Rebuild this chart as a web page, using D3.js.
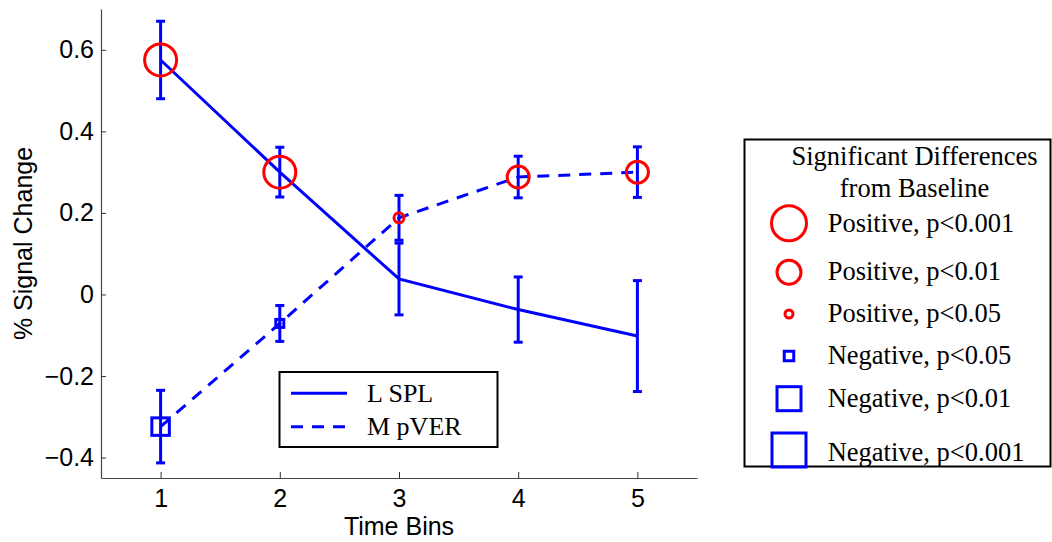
<!DOCTYPE html>
<html>
<head>
<meta charset="utf-8">
<script src="https://cdn.jsdelivr.net/npm/d3@7"></script>
<style>
  html, body { margin: 0; padding: 0; background: #fff; }
  svg { display: block; }
</style>
</head>
<body>
<svg id="chart" width="1052" height="542"></svg>
<script>
// Time bins on the x axis
const bins = [1, 2, 3, 4, 5];

// Mean % signal change and error-bar half-widths per region
const lSpl = [0.575, 0.300, 0.038, -0.037, -0.102];
const lSplErr = [0.095, 0.061, 0.088, 0.080, 0.136];
const mPver = [-0.324, -0.071, 0.188, 0.288, 0.300];
const mPverErr = [0.089, 0.044, 0.055, 0.051, 0.062];

// Significance vs. baseline for each bin (null = not significant)
const lSplSig = ["pos001", "pos001", null, null, null];
const mPverSig = ["neg01", "neg05", "pos05", "pos01", "pos01"];

// Axis ticks
const yTicks = [-0.4, -0.2, 0, 0.2, 0.4, 0.6];
const xTicks = [1, 2, 3, 4, 5];

// Legend text
const seriesNames = ["L SPL", "M pVER"];
const sigCodes = ["pos001", "pos01", "pos05", "neg05", "neg01", "neg001"];
const sigLabels = ["Positive, p<0.001", "Positive, p<0.01", "Positive, p<0.05",
                   "Negative, p<0.05", "Negative, p<0.01", "Negative, p<0.001"];
const sigTitle = ["Significant Differences", "from Baseline"];

// ---- drawing ----
const svg = d3.select("#chart");
const BLUE = "#0000ff", RED = "#ff0000";
const SANS = "'Liberation Sans', Arial, Helvetica, sans-serif";
const SERIF = "'Liberation Serif', 'Times New Roman', serif";

const x = d3.scaleLinear().domain([0.5, 5.5]).range([101, 697]);
const y = d3.scaleLinear().domain([-0.45, 0.7]).range([478, 9]);

// marker geometry in the plot and in the legend
const plotMarks = {
  pos001: { shape: "circle", size: 16 }, pos01: { shape: "circle", size: 11 },
  pos05: { shape: "circle", size: 5 },   neg05: { shape: "square", size: 8 },
  neg01: { shape: "square", size: 17.5 }, neg001: { shape: "square", size: 26 }
};
const legendMarks = {
  pos001: { shape: "circle", size: 17.5 }, pos01: { shape: "circle", size: 12 },
  pos05: { shape: "circle", size: 4 },     neg05: { shape: "square", size: 9.5 },
  neg01: { shape: "square", size: 24 },    neg001: { shape: "square", size: 34 }
};

function drawMarker(g, code, cx, cy, spec) {
  const m = spec[code];
  if (m.shape === "circle") {
    g.append("circle").attr("cx", cx).attr("cy", cy).attr("r", m.size)
      .attr("fill", "none").attr("stroke", RED).attr("stroke-width", 3);
  } else {
    g.append("rect").attr("x", cx - m.size / 2).attr("y", cy - m.size / 2)
      .attr("width", m.size).attr("height", m.size)
      .attr("fill", "none").attr("stroke", BLUE).attr("stroke-width", 3);
  }
}

// axes (MATLAB style: inward ticks, no box)
const fmt = d => d === 0 ? "0" : d3.format(".1f")(d);
const yAxis = svg.append("g").attr("transform", "translate(101,0)")
  .call(d3.axisLeft(y).tickValues(yTicks).tickFormat(fmt)
    .tickSizeInner(-5).tickSizeOuter(0).tickPadding(7));
const xAxis = svg.append("g").attr("transform", "translate(0,478)")
  .call(d3.axisBottom(x).tickValues(xTicks).tickFormat(d3.format("d"))
    .tickSizeInner(-6).tickSizeOuter(0).tickPadding(11.5));
[yAxis, xAxis].forEach(a => {
  a.select(".domain").attr("stroke", "#444").attr("stroke-width", 1.2);
  a.selectAll(".tick line").attr("stroke", "#333");
  a.selectAll(".tick text").attr("fill", "#000")
    .style("font-family", SANS).style("font-size", "25px");
});

svg.append("text").attr("x", 399).attr("y", 535).attr("text-anchor", "middle")
  .style("font-family", SANS).style("font-size", "25px").text("Time Bins");
svg.append("text").attr("transform", "translate(32,243.5) rotate(-90)")
  .attr("text-anchor", "middle")
  .style("font-family", SANS).style("font-size", "25px").text("% Signal Change");

// series
const series = [
  { name: seriesNames[0], vals: lSpl, err: lSplErr, sig: lSplSig, dash: null },
  { name: seriesNames[1], vals: mPver, err: mPverErr, sig: mPverSig, dash: "12,9" }
];
const line = d3.line().x((d, i) => x(bins[i])).y(d => y(d));
const plot = svg.append("g");

series.forEach(s => {
  plot.append("path").datum(s.vals).attr("d", line)
    .attr("fill", "none").attr("stroke", BLUE).attr("stroke-width", 3)
    .attr("stroke-dasharray", s.dash);
});

const CAP = 4.5;
series.forEach(s => {
  const eb = plot.append("g").attr("stroke", BLUE).attr("stroke-width", 3);
  s.vals.forEach((v, i) => {
    const cx = x(bins[i]), top = y(v + s.err[i]), bot = y(v - s.err[i]);
    eb.append("line").attr("x1", cx).attr("x2", cx).attr("y1", top).attr("y2", bot);
    eb.append("line").attr("x1", cx - CAP).attr("x2", cx + CAP).attr("y1", top).attr("y2", top);
    eb.append("line").attr("x1", cx - CAP).attr("x2", cx + CAP).attr("y1", bot).attr("y2", bot);
  });
});

series.forEach(s => {
  s.vals.forEach((v, i) => {
    if (s.sig[i]) drawMarker(plot, s.sig[i], x(bins[i]), y(v), plotMarks);
  });
});

// series legend
const lg = svg.append("g");
lg.append("rect").attr("x", 279.5).attr("y", 372).attr("width", 218).attr("height", 75)
  .attr("fill", "#fff").attr("stroke", "#000").attr("stroke-width", 2);
series.forEach((s, i) => {
  const ly = 393.3 + i * 33.4;
  lg.append("line").attr("x1", 291).attr("x2", 347).attr("y1", ly).attr("y2", ly)
    .attr("stroke", BLUE).attr("stroke-width", 3).attr("stroke-dasharray", s.dash);
  lg.append("text").attr("x", 367).attr("y", ly + 8.5)
    .style("font-family", SERIF).style("font-size", "26px").text(s.name);
});

// significance legend
const sg = svg.append("g");
sg.append("rect").attr("x", 744.5).attr("y", 139.5).attr("width", 306).attr("height", 327)
  .attr("fill", "#fff").attr("stroke", "#000").attr("stroke-width", 2);
sigTitle.forEach((t, i) => {
  sg.append("text").attr("x", 914.5).attr("y", 165 + i * 32).attr("text-anchor", "middle")
    .style("font-family", SERIF).style("font-size", "26.5px").text(t);
});
const rowMarkY = [223.3, 272.3, 314, 356, 398.7, 450];
const rowTextY = [231.7, 280, 321.7, 364.3, 407.3, 461];
sigCodes.forEach((c, i) => {
  drawMarker(sg, c, 789, rowMarkY[i], legendMarks);
  sg.append("text").attr("x", 827.7).attr("y", rowTextY[i])
    .style("font-family", SERIF).style("font-size", "26.5px").text(sigLabels[i]);
});
</script>
</body>
</html>
